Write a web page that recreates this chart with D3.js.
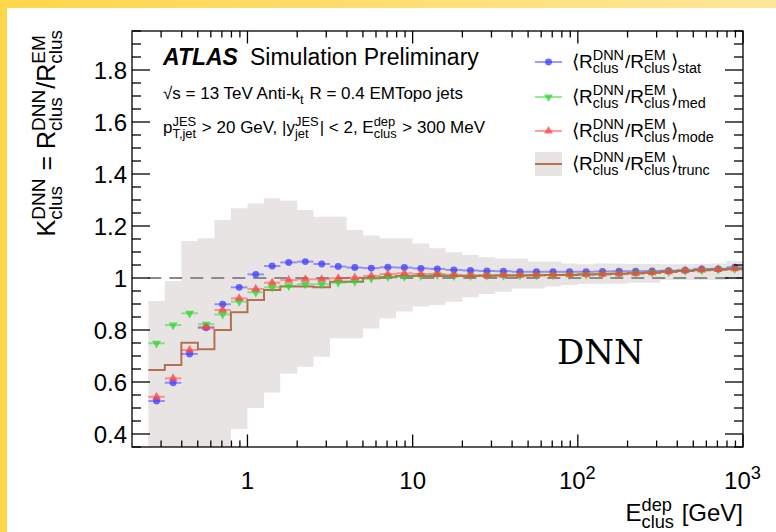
<!DOCTYPE html>
<html>
<head>
<meta charset="utf-8">
<script src="https://cdn.jsdelivr.net/npm/d3@7"></script>
<style>
  body { margin: 0; background: #fff; }
  svg text { font-family: "Liberation Sans", Arial, Helvetica, sans-serif; white-space: pre; fill: #000; }
</style>
</head>
<body>
<svg id="chart" width="776" height="532"></svg>
<script>
// Bin edges in GeV (10 bins per decade)
const binEdges = [0.251, 0.316, 0.398, 0.501, 0.631, 0.794, 1, 1.26, 1.58, 2.0, 2.51, 3.16, 3.98, 5.01,
  6.31, 7.94, 10, 12.6, 15.8, 20, 25.1, 31.6, 39.8, 50.1, 63.1, 79.4, 100, 126, 158, 200, 251, 316,
  398, 501, 631, 794, 1000];

// <R_DNN/R_EM> per bin
const statValues = [0.527, 0.597, 0.708, 0.809, 0.899, 0.964, 1.014, 1.046, 1.060, 1.063, 1.054, 1.044,
  1.040, 1.038, 1.041, 1.040, 1.037, 1.035, 1.031, 1.029, 1.027, 1.026, 1.024, 1.024, 1.024, 1.024,
  1.024, 1.025, 1.026, 1.026, 1.027, 1.028, 1.030, 1.035, 1.035, 1.041];
const medValues = [0.749, 0.819, 0.864, 0.822, 0.860, 0.909, 0.945, 0.964, 0.970, 0.976, 0.976, 0.982,
  0.986, 0.999, 1.005, 1.005, 1.008, 1.012, 1.008, 1.008, 1.009, 1.009, 1.010, 1.010, 1.011, 1.012,
  1.013, 1.015, 1.016, 1.018, 1.021, 1.024, 1.028, 1.030, 1.032, 1.035];
const modeValues = [0.543, 0.614, 0.723, 0.810, 0.877, 0.922, 0.958, 0.982, 0.992, 0.995, 0.995, 0.999,
  1.001, 1.008, 1.015, 1.018, 1.015, 1.015, 1.012, 1.010, 1.010, 1.011, 1.011, 1.012, 1.012, 1.013,
  1.014, 1.015, 1.016, 1.018, 1.020, 1.024, 1.028, 1.031, 1.033, 1.036];
const truncValues = [0.646, 0.665, 0.751, 0.726, 0.800, 0.868, 0.915, 0.954, 0.967, 0.967, 0.964, 0.986,
  0.986, 0.999, 1.003, 1.008, 1.008, 1.008, 1.008, 1.008, 1.009, 1.010, 1.010, 1.011, 1.012, 1.012,
  1.013, 1.014, 1.016, 1.018, 1.020, 1.024, 1.027, 1.030, 1.032, 1.034];
// grey band around the truncated mean
const bandHigh = [0.912, 0.988, 1.142, 1.153, 1.223, 1.268, 1.287, 1.307, 1.297, 1.262, 1.236, 1.236,
  1.185, 1.163, 1.153, 1.153, 1.133, 1.114, 1.099, 1.088, 1.080, 1.074, 1.074, 1.063, 1.063, 1.056,
  1.053, 1.056, 1.055, 1.054, 1.054, 1.053, 1.053, 1.054, 1.056, 1.065];
const bandLow = [0.20, 0.22, 0.26, 0.28, 0.32, 0.419, 0.50, 0.56, 0.633, 0.659, 0.697, 0.768,
  0.768, 0.806, 0.845, 0.871, 0.890, 0.896, 0.909, 0.926, 0.938, 0.947, 0.960, 0.960, 0.967, 0.973,
  0.977, 0.978, 0.978, 0.982, 0.982, 0.992, 0.992, 0.992, 0.992, 0.995];

const xTickValues = [1, 10, 100, 1000];
const xTickLabels = [["1"], ["10"], ["10", { sup: "2" }], ["10", { sup: "3" }]];
const yTickValues = [0.4, 0.6, 0.8, 1, 1.2, 1.4, 1.6, 1.8];

const bandColor = "#e8e4e4";
const truncColor = "#b4704f";
const series = [
  { values: statValues, color: "#3c3cff", symbol: d3.symbolCircle, size: 38, rot: 0 },
  { values: medValues, color: "#2ed62e", symbol: d3.symbolTriangle, size: 34, rot: 180 },
  { values: modeValues, color: "#ff4040", symbol: d3.symbolTriangle, size: 34, rot: 0 }
];

const W = 776, H = 532;
const frame = { left: 132, right: 743, top: 31, bottom: 447 };

const svg = d3.select("#chart");

// yellow slide border, top + left
const grad = svg.append("defs").append("linearGradient").attr("id", "topgrad");
grad.append("stop").attr("offset", "0%").attr("stop-color", "#ffd54a");
grad.append("stop").attr("offset", "100%").attr("stop-color", "#ffe79a");
svg.append("rect").attr("x", 0).attr("y", 0).attr("width", W).attr("height", 8).attr("fill", "url(#topgrad)");
svg.append("rect").attr("x", 0).attr("y", 0).attr("width", 7).attr("height", H).attr("fill", "#ffd54a");

const x = d3.scaleLog().domain([0.2, 1000]).range([frame.left, frame.right]);
const y = d3.scaleLinear().domain([0.35, 1.95]).range([frame.bottom, frame.top]);

svg.append("clipPath").attr("id", "plotclip").append("rect")
  .attr("x", frame.left).attr("y", frame.top)
  .attr("width", frame.right - frame.left).attr("height", frame.bottom - frame.top);

const plot = svg.append("g").attr("clip-path", "url(#plotclip)");

const bins = binEdges.slice(0, -1).map((lo, i) => ({ lo, hi: binEdges[i + 1], c: Math.sqrt(lo * binEdges[i + 1]), i }));

// Band as a step area
const stepPts = (vals) => bins.flatMap(b => [[b.lo, vals[b.i]], [b.hi, vals[b.i]]]);
const hiPts = stepPts(bandHigh);
const loPts = stepPts(bandLow).reverse();
plot.append("path")
  .attr("d", d3.line().x(d => x(d[0])).y(d => y(d[1]))(hiPts.concat(loPts)) + "Z")
  .attr("fill", bandColor);

// dashed reference at 1
plot.append("line")
  .attr("x1", x(binEdges[0])).attr("x2", x(1000))
  .attr("y1", y(1)).attr("y2", y(1))
  .attr("stroke", "#8a8a8a").attr("stroke-width", 2).attr("stroke-dasharray", "13,8");

// truncated mean histogram
plot.append("path")
  .attr("d", d3.line().x(d => x(d[0])).y(d => y(d[1]))(stepPts(truncValues)))
  .attr("fill", "none").attr("stroke", truncColor).attr("stroke-width", 2);

// markers with horizontal bars
series.forEach(s => {
  const g = plot.append("g");
  g.selectAll("line").data(bins).join("line")
    .attr("x1", b => x(b.lo)).attr("x2", b => x(b.hi))
    .attr("y1", b => y(s.values[b.i])).attr("y2", b => y(s.values[b.i]))
    .attr("stroke", s.color).attr("stroke-opacity", 0.5).attr("stroke-width", 2);
  g.selectAll("path").data(bins).join("path")
    .attr("d", d3.symbol(s.symbol, s.size))
    .attr("transform", b => `translate(${x(b.c)},${y(s.values[b.i])}) rotate(${s.rot})`)
    .attr("fill", s.color).attr("fill-opacity", 0.75);
});

// Frame and ticks on all four sides
const ax = svg.append("g").attr("stroke", "#000").attr("stroke-width", 1.3);
ax.append("rect").attr("x", frame.left).attr("y", frame.top)
  .attr("width", frame.right - frame.left).attr("height", frame.bottom - frame.top).attr("fill", "none");

const xMinor = [];
[0.1, 1, 10, 100].forEach(dec => d3.range(2, 10).forEach(k => { if (dec * k > 0.2) xMinor.push(dec * k); }));
const xTicks = xTickValues.map(v => ({ v, len: 12.5 })).concat(xMinor.map(v => ({ v, len: 6.5 })));
xTicks.forEach(t => {
  ax.append("line").attr("x1", x(t.v)).attr("x2", x(t.v)).attr("y1", frame.bottom).attr("y2", frame.bottom - t.len);
  ax.append("line").attr("x1", x(t.v)).attr("x2", x(t.v)).attr("y1", frame.top).attr("y2", frame.top + t.len);
});
d3.range(0.35, 1.951, 0.05).forEach(v => {
  const major = yTickValues.some(m => Math.abs(m - v) < 1e-6);
  const len = major ? 18 : 9;
  ax.append("line").attr("x1", frame.left).attr("x2", frame.left + len).attr("y1", y(v)).attr("y2", y(v));
  ax.append("line").attr("x1", frame.right).attr("x2", frame.right - len).attr("y1", y(v)).attr("y2", y(v));
});

// Text helper: plain strings plus stacked sup/sub pieces, ROOT-latex style
function rich(parent, px, py, parts, size, anchor) {
  const g = parent.append("g");
  const small = size * 0.76;
  let cx = 0;
  parts.forEach(p => {
    if (typeof p === "string") {
      const t = g.append("text").attr("x", cx).attr("y", 0).style("font-size", `${size}px`).text(p);
      cx += t.node().getComputedTextLength();
    } else {
      let w = 0;
      if (p.sup) {
        const t = g.append("text").attr("x", cx).attr("y", -size * 0.42).style("font-size", `${small}px`).text(p.sup);
        w = Math.max(w, t.node().getComputedTextLength());
      }
      if (p.sub) {
        const t = g.append("text").attr("x", cx).attr("y", size * 0.28).style("font-size", `${small}px`).text(p.sub);
        w = Math.max(w, t.node().getComputedTextLength());
      }
      cx += w + 1;
    }
  });
  const shift = anchor === "end" ? -cx : anchor === "middle" ? -cx / 2 : 0;
  g.attr("transform", `translate(${px + shift},${py})`);
  return g;
}

// tick labels
const fs = 24;
yTickValues.forEach(v => {
  svg.append("text").attr("x", 127).attr("y", y(v) + 8.5)
    .attr("text-anchor", "end").style("font-size", `${fs}px`).text(v === 1 ? "1" : v.toFixed(1));
});
xTickValues.forEach((v, i) => rich(svg, x(v), 489, xTickLabels[i], fs, "middle"));

// axis titles
rich(svg, frame.right, 521, ["E", { sup: "dep", sub: "clus" }, " [GeV]"], fs, "end");
const yTitle = svg.append("g").attr("transform", "translate(55,29) rotate(-90)");
rich(yTitle, 0, 0, ["K", { sup: "DNN", sub: "clus" }, " = R", { sup: "DNN", sub: "clus" }, "/R", { sup: "EM", sub: "clus" }], 25, "end");

// ATLAS label
svg.append("text").attr("x", 163).attr("y", 65).style("font-size", "23px")
  .style("font-weight", "bold").style("font-style", "italic").text("ATLAS");
svg.append("text").attr("x", 250).attr("y", 65).style("font-size", "23px").text("Simulation Preliminary");
rich(svg, 163, 99, ["\u221As = 13 TeV Anti-k", { sub: "t" }, " R = 0.4 EMTopo jets"], 17);
rich(svg, 163, 133, ["p", { sup: "JES", sub: "T,jet" }, " > 20 GeV, |y", { sup: "JES", sub: "jet" }, "| < 2, E",
  { sup: "dep", sub: "clus" }, " > 300 MeV"], 17);

// Legend
const legendRows = [62, 97, 131, 164];
const legendSubs = ["stat", "med", "mode", "trunc"];
const lg = svg.append("g");
legendRows.forEach((ly, i) => {
  if (i < 3) {
    const s = series[i];
    lg.append("line").attr("x1", 535).attr("x2", 562).attr("y1", ly).attr("y2", ly)
      .attr("stroke", s.color).attr("stroke-opacity", 0.5).attr("stroke-width", 2);
    lg.append("path").attr("d", d3.symbol(s.symbol, s.size))
      .attr("transform", `translate(548.5,${ly}) rotate(${s.rot})`)
      .attr("fill", s.color).attr("fill-opacity", 0.75);
  } else {
    lg.append("rect").attr("x", 535).attr("y", ly - 12).attr("width", 27).attr("height", 24).attr("fill", bandColor);
    lg.append("line").attr("x1", 535).attr("x2", 562).attr("y1", ly).attr("y2", ly)
      .attr("stroke", truncColor).attr("stroke-width", 2);
  }
  rich(lg, 572, ly + 6, ["\u27E8R", { sup: "DNN", sub: "clus" }, "/R", { sup: "EM", sub: "clus" }, "\u27E9", { sub: legendSubs[i] }], 19);
});

// DNN tag
svg.append("text").attr("x", 557).attr("y", 364)
  .style("font-family", "'DejaVu Serif', serif").style("font-size", "34px").text("DNN");
</script>
</body>
</html>
